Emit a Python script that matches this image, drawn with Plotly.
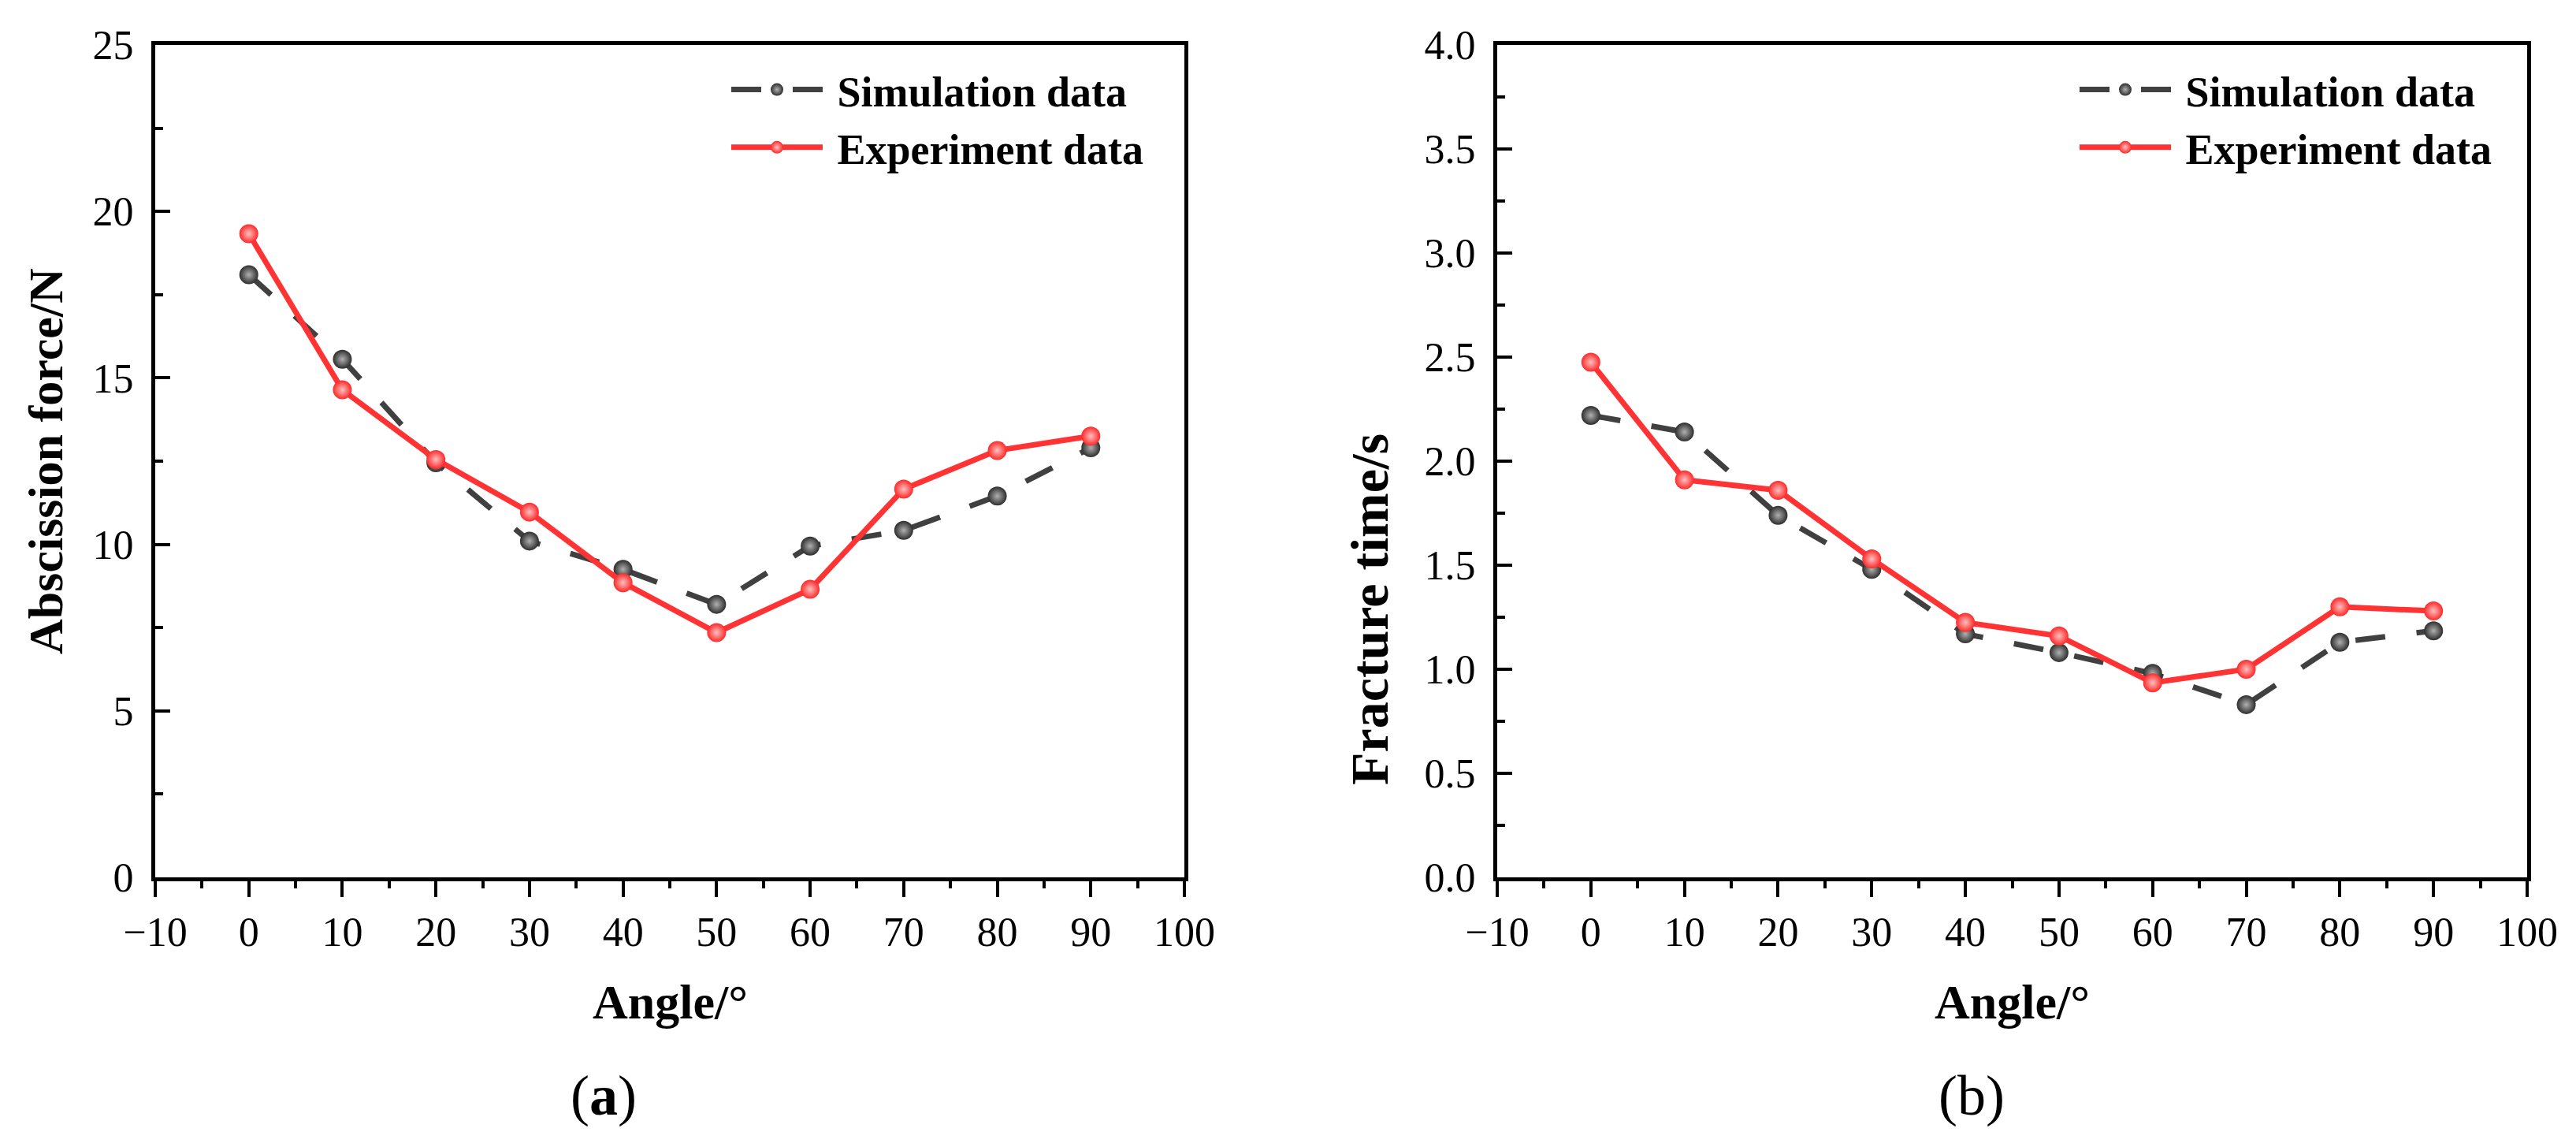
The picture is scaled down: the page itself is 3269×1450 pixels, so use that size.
import plotly.graph_objects as go

W, H = 3269, 1450

angles = [0, 10, 20, 30, 40, 50, 60, 70, 80, 90]
force_sim = [18.10, 15.56, 12.45, 10.10, 9.25, 8.20, 9.95, 10.42, 11.45, 12.90]
force_exp = [19.33, 14.64, 12.55, 10.97, 8.85, 7.35, 8.65, 11.66, 12.82, 13.25]
time_sim = [2.22, 2.14, 1.74, 1.48, 1.17, 1.08, 0.98, 0.83, 1.13, 1.185]
time_exp = [2.475, 1.91, 1.86, 1.53, 1.225, 1.16, 0.935, 1.00, 1.30, 1.28]

x_ticks = [-10, 0, 10, 20, 30, 40, 50, 60, 70, 80, 90, 100]
force_ticks = [0, 5, 10, 15, 20, 25]
time_ticks = [0.0, 0.5, 1.0, 1.5, 2.0, 2.5, 3.0, 3.5, 4.0]

FONT = "Liberation Serif"
GRAY = "#404040"
RED = "#ff3333"
NB = "\u00a0"


def px_x(p):
    return p / W


def px_y(p):
    return 1 - p / H


dom_a = [px_x(189), px_x(1495)]
dom_b = [px_x(1892), px_x(3199)]
dom_y = [px_y(1105), px_y(49)]

fig = go.Figure()

sim_style = dict(mode="lines+markers",
                 line=dict(color=GRAY, width=7, dash="38px,40px"),
                 marker=dict(size=24, color="#2e2e2e",
                             gradient=dict(type="radial", color="#b0b0b0"),
                             line=dict(width=0)))
exp_style = dict(mode="lines+markers",
                 line=dict(color=RED, width=7),
                 marker=dict(size=24, color="#ff2828",
                             gradient=dict(type="radial", color="#ffc0c0"),
                             line=dict(width=0)))

fig.add_trace(go.Scatter(x=angles, y=force_sim, name=NB + "Simulation data",
                         xaxis="x", yaxis="y", legend="legend", **sim_style))
fig.add_trace(go.Scatter(x=angles, y=force_exp, name=NB + "Experiment data",
                         xaxis="x", yaxis="y", legend="legend", **exp_style))
fig.add_trace(go.Scatter(x=angles, y=time_sim, name=NB + "Simulation data",
                         xaxis="x2", yaxis="y2", legend="legend2", **sim_style))
fig.add_trace(go.Scatter(x=angles, y=time_exp, name=NB + "Experiment data",
                         xaxis="x2", yaxis="y2", legend="legend2", **exp_style))

tickfont = dict(family=FONT, size=52, color="black")

xcommon = dict(range=[-10, 100], tickmode="array", tickvals=x_ticks,
               ticks="outside", ticklen=20, tickwidth=4, tickcolor="black",
               showline=True, linewidth=5, linecolor="black", mirror=True,
               showgrid=False, zeroline=False, tickfont=tickfont,
               ticklabelstandoff=0, automargin=False,
               minor=dict(dtick=5, tick0=-10, ticks="outside", ticklen=9,
                          tickwidth=4, tickcolor="black", showgrid=False))

ycommon = dict(ticks="inside", ticklen=19, tickwidth=4, tickcolor="black",
               showline=True, linewidth=5, linecolor="black", mirror=True,
               showgrid=False, zeroline=False, tickfont=tickfont,
               ticklabelstandoff=12, domain=dom_y, automargin=False)

legend_font = dict(family=FONT, size=54, color="black", weight="bold")

fig.update_layout(
    width=W, height=H,
    margin=dict(l=0, r=0, t=0, b=0, autoexpand=False),
    paper_bgcolor="white", plot_bgcolor="white",
    font=dict(family=FONT, color="black"),
    xaxis=dict(domain=dom_a, anchor="y", **xcommon),
    yaxis=dict(anchor="x", range=[0, 25], tickmode="array", tickvals=force_ticks,
               minor=dict(dtick=2.5, tick0=0, ticks="inside", ticklen=10,
                          tickwidth=4, tickcolor="black", showgrid=False),
               **ycommon),
    xaxis2=dict(domain=dom_b, anchor="y2", **xcommon),
    yaxis2=dict(anchor="x2", range=[0, 4], tickmode="array", tickvals=time_ticks,
                tickformat=".1f",
                minor=dict(dtick=0.25, tick0=0, ticks="inside", ticklen=10,
                           tickwidth=4, tickcolor="black", showgrid=False),
                **ycommon),
    legend=dict(x=px_x(915), y=px_y(64), xanchor="left", yanchor="top",
                bgcolor="rgba(0,0,0,0)", borderwidth=0, itemwidth=116,
                font=legend_font),
    legend2=dict(x=px_x(2626), y=px_y(64), xanchor="left", yanchor="top",
                 bgcolor="rgba(0,0,0,0)", borderwidth=0, itemwidth=116,
                 font=legend_font),
    showlegend=True,
)

title_font = dict(family=FONT, size=62, color="black", weight="bold")
title_font_b = dict(family=FONT, size=68, color="black", weight="bold")
ann = [
    dict(text="Angle/°", x=(dom_a[0] + dom_a[1]) / 2, y=px_y(1263), font=title_font),
    dict(text="Angle/°", x=(dom_b[0] + dom_b[1]) / 2, y=px_y(1263), font=title_font),
    dict(text="Abscission force/N", x=px_x(50), y=px_y(577), textangle=-90, font=title_font),
    dict(text="Fracture time/s", x=px_x(1730), y=px_y(765), textangle=-90, font=title_font_b),
]
for a in ann:
    fig.add_annotation(xref="paper", yref="paper", showarrow=False,
                       xanchor="center", yanchor="middle", **a)

label_font = dict(family=FONT, size=72, color="black")
fig.add_annotation(text="(<b>a</b>)", x=px_x(758), y=px_y(1382), xref="paper", yref="paper",
                   showarrow=False, xanchor="center", yanchor="middle", font=label_font)
fig.add_annotation(text="(b)", x=px_x(2494), y=px_y(1382), xref="paper", yref="paper",
                   showarrow=False, xanchor="center", yanchor="middle", font=label_font)

fig.write_html("out.html")
